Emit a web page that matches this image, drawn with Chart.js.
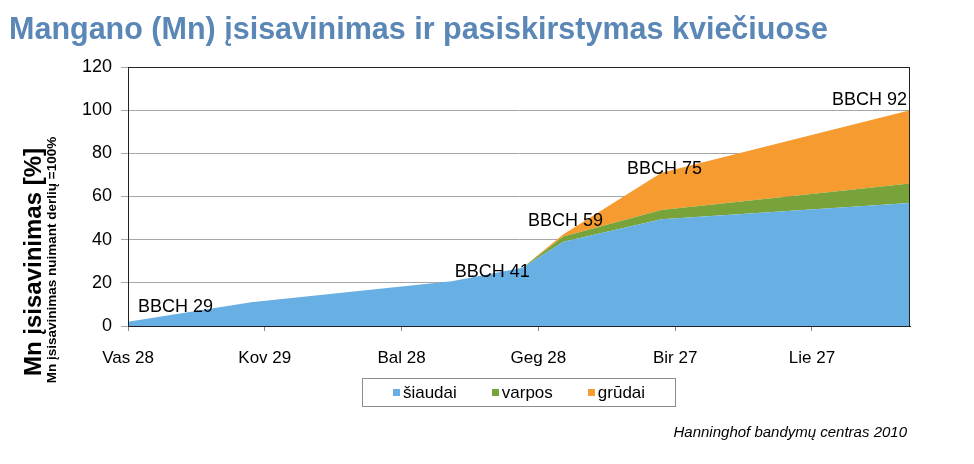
<!DOCTYPE html>
<html lang="lt">
<head>
<meta charset="utf-8">
<title>Mangano (Mn) įsisavinimas ir pasiskirstymas kviečiuose</title>
<script src="https://cdn.jsdelivr.net/npm/chart.js@4.4.1/dist/chart.umd.min.js"></script>
<style>
    html, body { margin: 0; padding: 0; background: #fff; }
    body { width: 974px; height: 464px; position: relative; overflow: hidden; font-family: 'Liberation Sans', Arial, sans-serif; }
    #chart-wrap { position: absolute; left: 0; top: 0; width: 974px; height: 464px; }
    #title { position: absolute; left: 9px; top: 12px; font-weight: bold; font-size: 32px; line-height: 32px; color: #5b87b7; white-space: nowrap; transform-origin: 0 0; }
    #legend { position: absolute; left: 362px; top: 378px; width: 312px; height: 27px; border: 1px solid #8c8c8c; display: flex; justify-content: center; align-items: center; gap: 35px; font-size: 17px; color: #000; }
    #legend .item { display: flex; align-items: center; }
    #legend .box { width: 7px; height: 7px; margin-right: 3px; }
    #source { position: absolute; right: 67px; top: 423px; font-size: 15px; font-style: italic; color: #000; white-space: nowrap; }
</style>
</head>
<body>
<div id="chart-wrap"><canvas id="mnChart"></canvas></div>
<div id="title">Mangano (Mn) įsisavinimas ir pasiskirstymas kviečiuose</div>
<div id="legend"></div>
<div id="source">Hanninghof bandymų centras 2010</div>
<script>
// Mn uptake and distribution in wheat - stacked area over the season

// x axis: days counted from Vas 28
const xTickDays = [0, 30, 60, 90, 120, 150];
const xTickLabels = ['Vas 28', 'Kov 29', 'Bal 28', 'Geg 28', 'Bir 27', 'Lie 27'];
const xMaxDay = 171.5;

// sampling points
const sampleDays = [0, 27, 71, 86.5, 95.5, 117, 171.5];
const siaudai = [2, 11, 20.7, 27, 39, 49.5, 57];
const varpos = [0, 0, 0, 0, 2.5, 4.3, 9];
const grudai = [0, 0, 0, 0, 1, 17.2, 34];
const stageLabels = ['BBCH 29', '', 'BBCH 41', '', 'BBCH 59', 'BBCH 75', 'BBCH 92'];

const yTitle = 'Mn įsisavinimas [%]';
const ySubTitle = 'Mn įsisavinimas nuimant derlių =100%';

// where each stage label sits relative to the top of the stack
const stagePlacement = {
    0: { dx: 10, dy: -15, align: 'left' },
    2: { dx: 3, dy: -9, align: 'left' },
    4: { dx: 2, dy: -13, align: 'center' },
    5: { dx: 3, dy: -4, align: 'center' },
    6: { dx: -3, dy: -10, align: 'right' }
};

const FONT = "'Liberation Sans', Arial, sans-serif";
Chart.defaults.font.family = FONT;
Chart.defaults.color = '#000';

function toPoints(values) {
    return values.map((v, i) => ({ x: sampleDays[i], y: v }));
}

const overlayPlugin = {
    id: 'overlay',
    afterDraw(chart) {
        const ctx = chart.ctx;
        const area = chart.chartArea;

        // plot area frame
        ctx.save();
        ctx.strokeStyle = '#222';
        ctx.lineWidth = 1;
        ctx.strokeRect(Math.round(area.left) + 0.5, Math.round(area.top) + 0.5,
            Math.round(area.right - area.left) - 1, Math.round(area.bottom - area.top));
        ctx.restore();

        // y axis titles
        ctx.save();
        ctx.fillStyle = '#000';
        ctx.textAlign = 'center';
        ctx.textBaseline = 'alphabetic';
        ctx.translate(41, 262);
        ctx.rotate(-Math.PI / 2);
        ctx.font = 'bold 24px ' + FONT;
        ctx.fillText(yTitle, 0, 0);
        ctx.restore();

        ctx.save();
        ctx.fillStyle = '#000';
        ctx.textAlign = 'center';
        ctx.translate(56, 260);
        ctx.rotate(-Math.PI / 2);
        ctx.font = 'bold 13.5px ' + FONT;
        ctx.fillText(ySubTitle, 0, 0);
        ctx.restore();

        // growth stage labels
        const top = chart.getDatasetMeta(chart.data.datasets.length - 1).data;
        ctx.save();
        ctx.fillStyle = '#000';
        ctx.font = '18px ' + FONT;
        ctx.textBaseline = 'middle';
        stageLabels.forEach((text, i) => {
            if (!text) return;
            const p = stagePlacement[i] || { dx: 0, dy: -10, align: 'center' };
            ctx.textAlign = p.align;
            ctx.fillText(text, top[i].x + p.dx, top[i].y + p.dy);
        });
        ctx.restore();
    }
};

const ctx = document.getElementById('mnChart').getContext('2d');

const mnChart = new Chart(ctx, {
    type: 'line',
    data: {
        datasets: [
            {
                label: 'šiaudai',
                data: toPoints(siaudai),
                backgroundColor: '#68afe4',
                borderWidth: 0,
                fill: 'origin'
            },
            {
                label: 'varpos',
                data: toPoints(varpos),
                backgroundColor: '#77a33a',
                borderWidth: 0,
                fill: '-1'
            },
            {
                label: 'grūdai',
                data: toPoints(grudai),
                backgroundColor: '#f59b2f',
                borderWidth: 0,
                fill: '-1'
            }
        ]
    },
    options: {
        responsive: true,
        maintainAspectRatio: false,
        animation: false,
        elements: {
            point: { radius: 0, hoverRadius: 0 },
            line: { tension: 0 }
        },
        layout: {
            padding: { top: 67, right: 64, left: 0, bottom: 0 }
        },
        plugins: {
            legend: { display: false },
            tooltip: { enabled: false }
        },
        scales: {
            x: {
                type: 'linear',
                min: 0,
                max: xMaxDay,
                afterBuildTicks: scale => {
                    scale.ticks = xTickDays.map(v => ({ value: v }));
                },
                afterFit: scale => {
                    scale.height = 138;
                },
                ticks: {
                    autoSkip: false,
                    maxRotation: 0,
                    padding: 17,
                    font: { size: 17 },
                    color: '#000',
                    callback: value => xTickLabels[xTickDays.indexOf(value)]
                },
                grid: {
                    drawOnChartArea: false,
                    drawTicks: true,
                    tickLength: 5,
                    color: '#888'
                },
                border: { color: '#222' }
            },
            y: {
                stacked: true,
                min: 0,
                max: 120,
                afterFit: scale => {
                    scale.width = 128;
                },
                ticks: {
                    stepSize: 20,
                    padding: 9,
                    font: { size: 18 },
                    color: '#000'
                },
                grid: {
                    color: '#a6a6a6',
                    tickLength: 7
                },
                border: { color: '#222' }
            }
        }
    },
    plugins: [overlayPlugin]
});

// legend built from the datasets
const legendEl = document.getElementById('legend');
mnChart.data.datasets.forEach(ds => {
    const item = document.createElement('div');
    item.className = 'item';
    const box = document.createElement('span');
    box.className = 'box';
    box.style.background = ds.backgroundColor;
    const label = document.createElement('span');
    label.textContent = ds.label;
    item.appendChild(box);
    item.appendChild(label);
    legendEl.appendChild(item);
});

// title is set in a condensed face in the original; squeeze to the same width
const titleEl = document.getElementById('title');
const titleWidth = titleEl.getBoundingClientRect().width;
titleEl.style.transform = 'scaleX(' + (819 / titleWidth) + ')';
</script>
</body>
</html>
